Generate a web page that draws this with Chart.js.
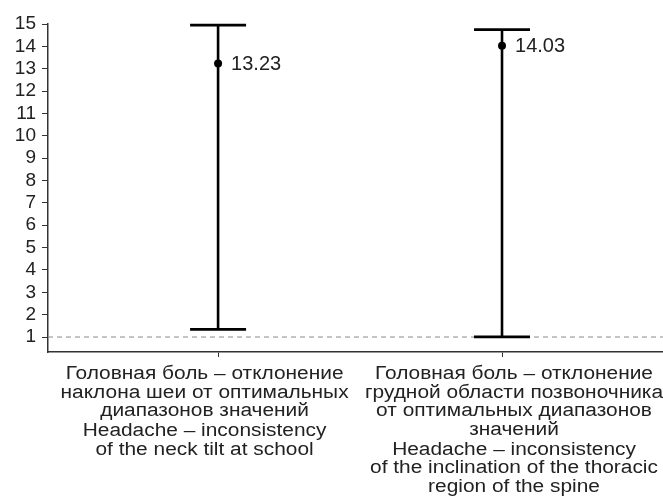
<!DOCTYPE html>
<html>
<head>
<meta charset="utf-8">
<script src="https://cdn.jsdelivr.net/npm/chart.js@4/dist/chart.umd.min.js"></script>
<style>
  html, body { margin: 0; padding: 0; background: #ffffff; overflow: hidden; }
  #wrap { width: 663px; height: 499px; position: relative; }
</style>
</head>
<body>
<div id="wrap"><canvas id="chart"></canvas></div>
<script>
// Category captions (Russian and English lines)
const categoryLabelsRu = [
  ['Головная боль – отклонение', 'наклона шеи от оптимальных', 'диапазонов значений'],
  ['Головная боль – отклонение', 'грудной области позвоночника', 'от оптимальных диапазонов', 'значений']
];
const categoryLabelsEn = [
  ['Headache – inconsistency', 'of the neck tilt at school'],
  ['Headache – inconsistency', 'of the inclination of the thoracic', 'region of the spine']
];

// Point estimates with lower / upper interval limits
const pointValues = [13.23, 14.03];
const lowerValues = [1.34, 1.01];
const upperValues = [14.95, 14.75];

// Y axis tick values and reference line
const yTickValues = [1, 2, 3, 4, 5, 6, 7, 8, 9, 10, 11, 12, 13, 14, 15];
const referenceValue = 1;

const FONT = '"Liberation Sans", Arial, Helvetica, sans-serif';
const TEXT_COLOR = '#222222';
const AXIS_COLOR = '#333333';
const CAP_HALF = 28;
const LABEL_SHIFT = [-13.5, 12];
const LABEL_STRETCH = 1.16;

const intervalPlugin = {
  id: 'intervals',
  beforeDatasetsDraw(chart) {
    const { ctx, chartArea, scales: { x, y } } = chart;
    ctx.save();
    // dashed reference line
    const yr = y.getPixelForValue(referenceValue);
    ctx.strokeStyle = '#8a8a8a';
    ctx.lineWidth = 1;
    ctx.setLineDash([5, 4]);
    ctx.beginPath();
    ctx.moveTo(chartArea.left, yr);
    ctx.lineTo(chartArea.right, yr);
    ctx.stroke();
    ctx.setLineDash([]);
    // whiskers
    ctx.strokeStyle = '#000000';
    ctx.lineCap = 'butt';
    pointValues.forEach((_, i) => {
      const px = x.getPixelForValue(i);
      const yl = y.getPixelForValue(lowerValues[i]);
      const yu = y.getPixelForValue(upperValues[i]);
      ctx.lineWidth = 2.6;
      ctx.beginPath();
      ctx.moveTo(px, yu);
      ctx.lineTo(px, yl);
      ctx.stroke();
      ctx.lineWidth = 2.8;
      ctx.beginPath();
      ctx.moveTo(px - CAP_HALF, yu);
      ctx.lineTo(px + CAP_HALF, yu);
      ctx.moveTo(px - CAP_HALF, yl);
      ctx.lineTo(px + CAP_HALF, yl);
      ctx.stroke();
    });
    ctx.restore();
  },
  afterDatasetsDraw(chart) {
    const { ctx, scales: { x, y } } = chart;
    ctx.save();
    ctx.fillStyle = TEXT_COLOR;
    ctx.font = '20px ' + FONT;
    ctx.textAlign = 'left';
    ctx.textBaseline = 'middle';
    pointValues.forEach((v, i) => {
      ctx.fillText(v.toFixed(2), x.getPixelForValue(i) + 13, y.getPixelForValue(v) + 1);
    });
    ctx.restore();
  },
  afterDraw(chart) {
    const { ctx, scales: { x } } = chart;
    const line = (t, cx, yb) => {
      ctx.save();
      ctx.translate(cx, yb);
      ctx.scale(LABEL_STRETCH, 1);
      ctx.fillText(t, 0, 0);
      ctx.restore();
    };
    ctx.save();
    ctx.fillStyle = TEXT_COLOR;
    ctx.textAlign = 'center';
    ctx.textBaseline = 'alphabetic';
    ctx.font = '18px ' + FONT;
    categoryLabelsRu.forEach((lines, i) => {
      const cx = x.getPixelForValue(i) + LABEL_SHIFT[i];
      let yb = 379;
      lines.forEach(t => { line(t, cx, yb); yb += 18.7; });
      yb += 1.3;
      categoryLabelsEn[i].forEach(t => { line(t, cx, yb); yb += 18.3; });
    });
    ctx.restore();
  }
};

new Chart(document.getElementById('chart'), {
  type: 'scatter',
  data: {
    datasets: [{
      data: pointValues.map((v, i) => ({ x: i, y: v })),
      pointRadius: 4,
      pointHoverRadius: 4,
      pointBackgroundColor: '#000000',
      pointBorderWidth: 0
    }]
  },
  plugins: [intervalPlugin],
  options: {
    responsive: true,
    maintainAspectRatio: false,
    animation: false,
    events: [],
    layout: { autoPadding: false, padding: { top: 24, right: 0, bottom: 0, left: 0 } },
    plugins: { legend: { display: false }, tooltip: { enabled: false } },
    scales: {
      x: {
        type: 'linear',
        min: -0.599,
        max: 1.567,
        afterBuildTicks: s => { s.ticks = [{ value: 0 }, { value: 1 }]; },
        afterFit: s => { s.height = 147; s.paddingRight = 0; },
        ticks: { display: false },
        grid: { drawOnChartArea: false, drawTicks: true, tickLength: 5, color: AXIS_COLOR, lineWidth: 1 },
        border: { display: true, color: AXIS_COLOR, width: 1.5 }
      },
      y: {
        type: 'linear',
        min: 0.33,
        max: 15,
        afterBuildTicks: s => { s.ticks = yTickValues.map(v => ({ value: v })); },
        afterFit: s => { s.width = 48; },
        ticks: { color: TEXT_COLOR, font: { family: FONT, size: 19 }, padding: 6, autoSkip: false },
        grid: { drawOnChartArea: false, drawTicks: true, tickLength: 6, color: AXIS_COLOR, lineWidth: 1 },
        border: { display: true, color: AXIS_COLOR, width: 1.5 }
      }
    }
  }
});
</script>
</body>
</html>
